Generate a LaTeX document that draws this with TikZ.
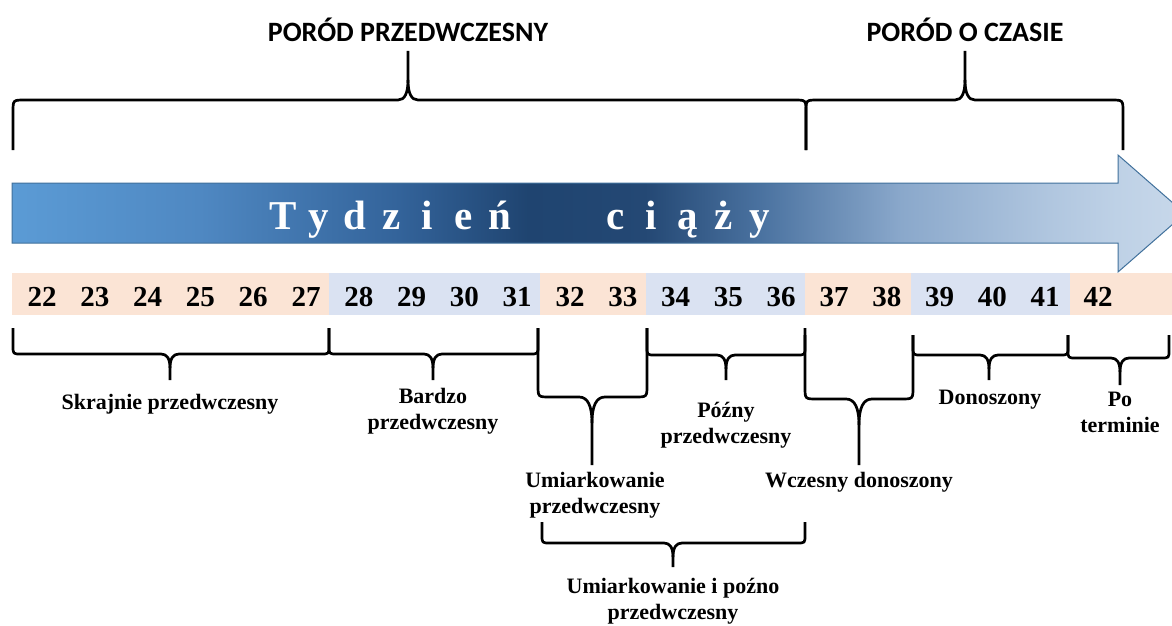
\documentclass[tikz,border=0pt]{standalone}
\usepackage{fontspec}
\setmainfont{Liberation Serif}
\newfontfamily\calibfont{Carlito}
\definecolor{peach}{RGB}{251,228,213}
\definecolor{pale}{RGB}{218,226,242}
\definecolor{outl}{RGB}{65,113,156}
\definecolor{sA}{RGB}{91,155,213}
\definecolor{sB}{RGB}{79,136,194}
\definecolor{sC}{RGB}{51,99,154}
\definecolor{sD}{RGB}{31,68,112}
\definecolor{sE}{RGB}{36,72,116}
\definecolor{sF}{RGB}{74,114,160}
\definecolor{sG}{RGB}{138,168,203}
\definecolor{sH}{RGB}{176,198,223}
\definecolor{sI}{RGB}{190,209,230}
\definecolor{sJ}{RGB}{200,216,234}
\pgfdeclarehorizontalshading{arrowshade}{100bp}{color(0bp)=(sA); color(25bp)=(sA); color(33bp)=(sB); color(41.5bp)=(sC); color(47bp)=(sD); color(52bp)=(sE); color(56.9bp)=(sF); color(62.9bp)=(sG); color(69.2bp)=(sH); color(72.1bp)=(sI); color(75bp)=(sJ); color(100bp)=(sJ)}
% brace opening upward, tip pointing down: x1,x2,xm,ytop,yh,ytip,r,t,v
\newcommand\bdown[9]{%
  \draw[brc] (#1,#4) -- (#1,#5-#7) .. controls (#1,#5) .. (#1+#7,#5) -- (#3-#8,#5) .. controls (#3-#8/3,#5) and (#3,#5+#9/3) .. (#3,#5+#9) -- (#3,#6);
  \draw[brc] (#3,#5+#9) .. controls (#3,#5+#9/3) and (#3+#8/3,#5) .. (#3+#8,#5) -- (#2-#7,#5) .. controls (#2,#5) .. (#2,#5-#7) -- (#2,#4);}
% brace opening downward, tip pointing up: x1,x2,xm,ybot,yh,ytip,r,t,v
\newcommand\bup[9]{%
  \draw[brc] (#1,#4) -- (#1,#5+#7) .. controls (#1,#5) .. (#1+#7,#5) -- (#3-#8,#5) .. controls (#3-#8/3,#5) and (#3,#5-#9/3) .. (#3,#5-#9) -- (#3,#6);
  \draw[brc] (#3,#5-#9) .. controls (#3,#5-#9/3) and (#3+#8/3,#5) .. (#3+#8,#5) -- (#2-#7,#5) .. controls (#2,#5) .. (#2,#5+#7) -- (#2,#4);}
\newcommand\lt[1]{\makebox[36.2pt]{#1}}
\begin{document}
\begin{tikzpicture}[x=1pt,y=-1pt,
  brc/.style={line width=2.7pt,black,line join=round},
  lab/.style={font=\bfseries\fontsize{22}{26}\selectfont,align=center,inner sep=0pt},
  toplab/.style={font=\calibfont\bfseries\fontsize{28}{30}\selectfont,inner sep=0pt},
  num/.style={font=\bfseries\fontsize{29}{30}\selectfont,inner sep=0pt,anchor=base},
  big/.style={font=\bfseries\fontsize{41}{44}\selectfont,text=white,inner sep=0pt,anchor=base}]
\useasboundingbox[fill=white] (0,0) rectangle (1172,626);
% top labels and braces
\node[toplab] (pp) at (408,30) {PORÓD PRZEDWCZESNY};
\node[toplab] (pc) at (965,30) {PORÓD O CZASIE};
\bup{13}{806}{408}{150}{100}{51}{12}{10}{20}
\bup{806}{1123}{965}{150}{100}{51}{12}{10}{20}
% arrow
\shade[shading=arrowshade,draw=outl,line width=1pt]
  (12,183) -- (1118,183) -- (1118,155) -- (1185,213.5) -- (1118,272) -- (1118,243) -- (12,243) -- cycle;
\node[big] (t1) at (391.5,229) {\lt{T}\lt{y}\lt{d}\lt{z}\lt{i}\lt{e}\lt{ń}};
\node[big] (t2) at (687.5,229) {\lt{c}\lt{i}\lt{ą}\lt{ż}\lt{y}};
% strip
\fill[peach] (12,273) rectangle (329,315);
\fill[pale] (329,273) rectangle (540,315);
\fill[peach] (540,273) rectangle (646,315);
\fill[pale] (646,273) rectangle (805,315);
\fill[peach] (805,273) rectangle (911,315);
\fill[pale] (911,273) rectangle (1070,315);
\fill[peach] (1070,273) rectangle (1172,315);
\foreach \w in {22,...,42}{
  \node[num] (w\w) at ({42+(\w-22)*52.8},306) {\w};
}
% lower braces
\bdown{13}{329}{170}{328}{354}{380}{8}{9}{14}
\bdown{329}{538}{433}{328}{354}{380}{8}{9}{14}
\bdown{538}{647}{592}{328}{397}{465}{12}{13}{26}
\bdown{647}{805}{726}{328}{355}{380}{8}{9}{14}
\bdown{805}{913}{859}{335}{399}{465}{12}{13}{26}
\bdown{913}{1068}{989}{335}{355}{380}{8}{9}{14}
\bdown{1068}{1169}{1120}{335}{358}{385}{8}{9}{14}
\bdown{542}{805}{673}{522}{543}{567}{8}{9}{14}
% labels
\node[lab] (sk) at (170,404) {Skrajnie przedwczesny};
\node[lab] (bp) at (433,411) {Bardzo\\przedwczesny};
\node[lab] (up) at (595,495) {Umiarkowanie\\przedwczesny};
\node[lab] (pz) at (726,425) {Późny\\przedwczesny};
\node[lab] (wd) at (859,482) {Wczesny donoszony};
\node[lab] (dn) at (990,400) {Donoszony};
\node[lab] (pt) at (1120,412) {Po\\terminie};
\node[lab] (ui) at (673,601) {Umiarkowanie i poźno\\przedwczesny};
\end{tikzpicture}
\end{document}
